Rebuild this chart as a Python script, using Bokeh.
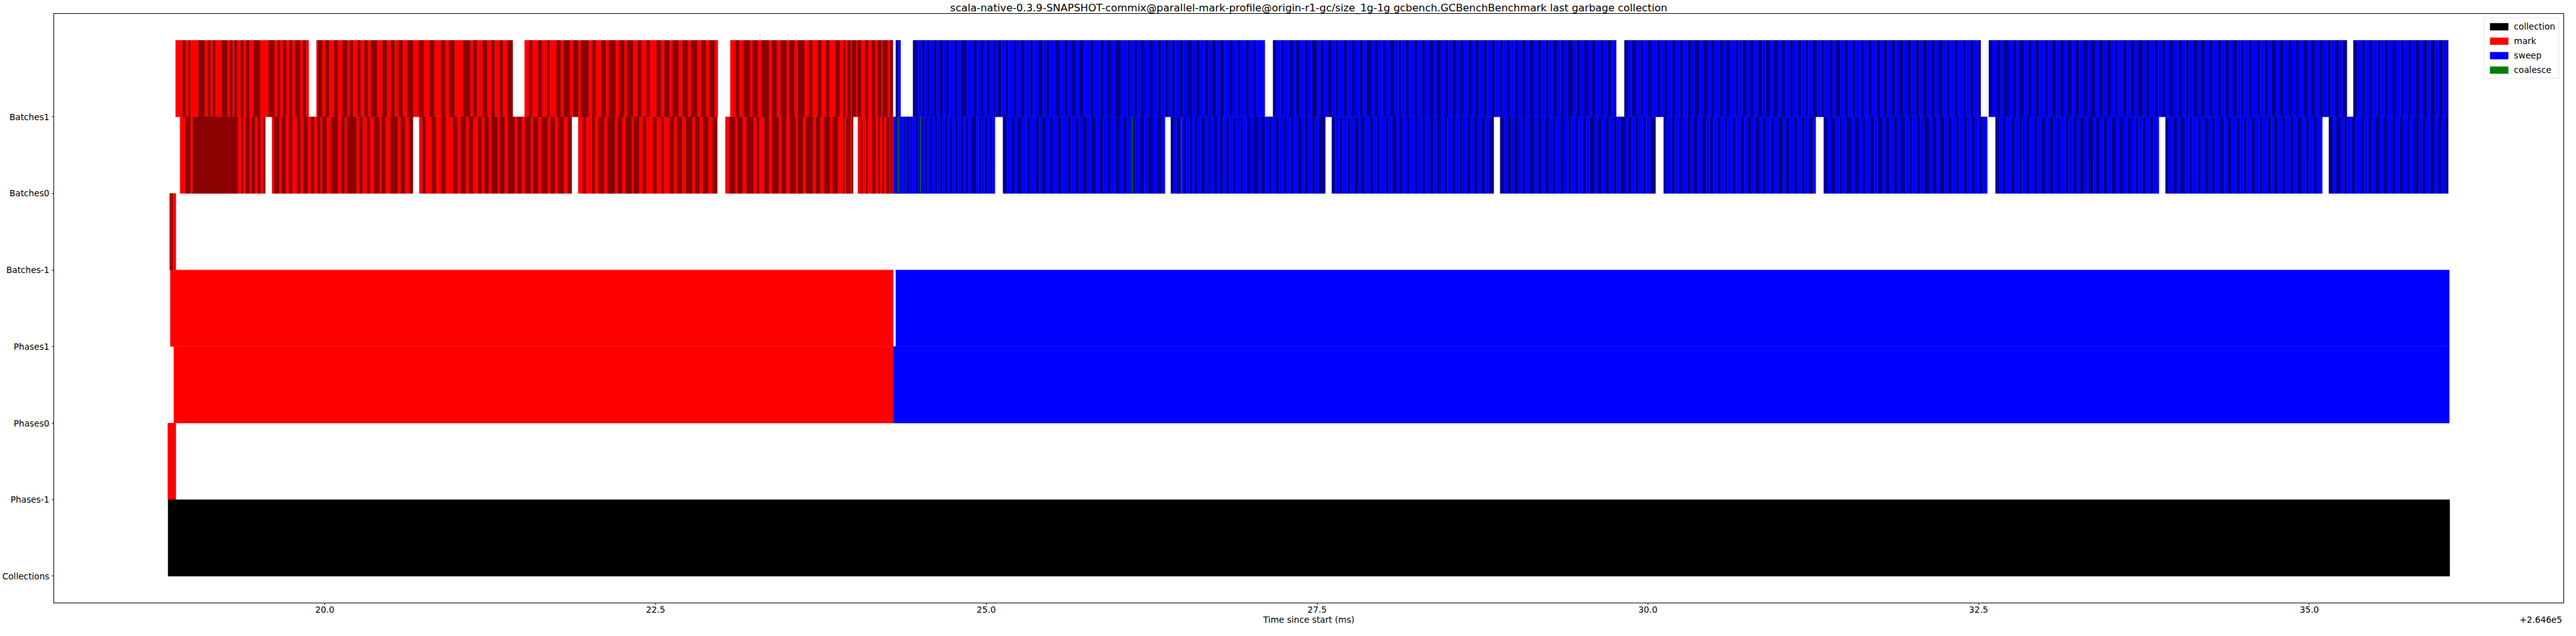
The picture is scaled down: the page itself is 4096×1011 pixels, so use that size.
from bokeh.plotting import figure
from bokeh.models import (ColumnDataSource, Range1d, FixedTicker, NumeralTickFormatter,
                          Legend, LegendItem, LinearAxis)
from bokeh.embed import file_html
from bokeh.resources import INLINE

TITLE = ("scala-native-0.3.9-SNAPSHOT-commix@parallel-mark-profile@origin-r1-gc/size_1g-1g "
         "gcbench.GCBenchBenchmark last garbage collection")
X_LABEL = "Time since start (ms)"
OFFSET_TEXT = "+2.646e5"          # times below are ms minus 264600
ROW_LABELS = ["Collections", "Phases-1", "Phases0", "Phases1", "Batches-1", "Batches0", "Batches1"]
X_TICKS = [20.0, 22.5, 25.0, 27.5, 30.0, 32.5, 35.0]

# ---- simple spans (start, end) in ms ----
collection_spans = [(18.815, 36.061)]
phases_m1_mark = [(18.813, 18.874)]
phases0_mark = [(18.859, 24.298)]
phases0_sweep = [(24.298, 36.058)]
phases1_mark = [(18.832, 24.296)]
phases1_sweep = [(24.316, 36.058)]

# ---- batch blocks: (start, end, batch widths in microseconds) ----
batches_m1_mark = [(18.827, 18.874, [5, 5, 5, 7, 25])]

batches0_mark = [
    (18.906, 19.550, [40, 37, 19, 340, 27, 12, 22, 28, 16, 26, 21, 18, 24, 14]),
    (19.601, 20.666, [16, 37, 21, 29, 25, 24, 37, 25, 22, 34, 25, 22, 24, 23, 17, 30, 34, 52, 26, 25,
                      19, 70, 24, 23, 33, 22, 34, 39, 16, 28, 39, 54, 24, 31, 31, 30]),
    (20.714, 21.866, [24, 23, 47, 31, 39, 36, 55, 31, 28, 38, 23, 31, 39, 25, 24, 30, 22, 45, 18, 35,
                      27, 50, 20, 33, 26, 41, 19, 37, 28, 44, 23, 31, 29, 40, 30, 30]),
    (21.916, 22.966, [35, 22, 48, 19, 30, 41, 26, 55, 21, 33, 28, 44, 17, 39, 30, 24, 52, 27, 36, 20,
                      45, 31, 23, 38, 29, 47, 22, 34, 26, 40, 33, 21]),
    (23.028, 23.993, [28, 45, 20, 36, 31, 52, 24, 19, 40, 33, 27, 48, 22, 35, 29, 41, 18, 37, 26, 50,
                      23, 32, 30, 44, 21, 39, 41, 8, 15, 11, 3, 16, 11, 10]),
    (24.029, 24.296, [21, 12, 28, 13, 36, 25, 19, 11, 20, 12, 21, 19, 10, 14, 6]),
]

batches0_sweep = [
    (24.298, 25.065, [5, 13, 9, 9, 11, 12, 7, 10, 10, 12, 18, 13, 13, 27, 20, 15, 19, 20, 14, 18, 17, 23,
                      18, 18, 19, 18, 19, 20, 19, 20, 22, 19, 20, 19, 17, 21, 41, 22, 17, 24, 21, 22, 16, 20]),
    (25.126, 26.350, [30, 30, 26, 19, 39, 36, 28, 37, 28, 19, 34, 26, 24, 37, 28, 49, 26, 28, 28, 28,
                      37, 28, 37, 30, 26, 32, 24, 36, 30, 28, 28, 39, 26, 32, 34, 28, 37, 34, 32, 24]),
    (26.395, 27.562, [24, 19, 32, 22, 19, 24, 22, 19, 22, 24, 32, 24, 19, 24, 22, 22, 24, 24, 22,
                      28, 22, 35, 19, 30, 26, 24, 38, 21, 27, 33, 20, 29, 25, 36, 22, 31, 24, 28, 34,
                      19, 27, 30, 23, 26, 28]),
    (27.612, 28.835, [26, 31, 22, 38, 24, 29, 33, 21, 27, 36, 23, 30, 25, 41, 22, 28, 34, 19, 27, 31,
                      24, 37, 26, 29, 22, 35, 28, 24, 32, 27, 21, 38, 25, 30, 23, 33, 28, 26, 31, 24,
                      29, 27, 35]),
    (28.884, 30.058, [33, 24, 28, 19, 36, 27, 22, 31, 40, 25, 29, 23, 34, 26, 21, 37, 28, 30, 24, 32,
                      20, 35, 27, 25, 39, 22, 29, 31, 26, 33, 24, 28, 36, 21, 30, 27, 25, 34, 23, 29, 31]),
    (30.120, 31.269, [22, 35, 28, 31, 24, 40, 26, 19, 33, 29, 37, 23, 27, 32, 25, 30, 21, 38, 26, 34,
                      28, 24, 31, 27, 36, 22, 29, 33, 25, 30, 39, 20, 28, 34, 26, 31, 24, 29, 35, 27]),
    (31.330, 32.566, [29, 24, 36, 31, 22, 27, 40, 25, 33, 28, 21, 35, 30, 26, 38, 23, 29, 32, 27, 24,
                      37, 30, 22, 34, 28, 26, 41, 23, 31, 27, 35, 25, 29, 33, 22, 38, 26, 30, 24, 32,
                      28, 36, 25]),
    (32.628, 33.863, [31, 26, 22, 39, 28, 33, 24, 30, 27, 35, 21, 29, 36, 25, 32, 28, 23, 40, 26, 31,
                      29, 24, 34, 27, 38, 22, 30, 25, 33, 28, 36, 24, 29, 31, 26, 35, 23, 30, 27, 32,
                      28, 25]),
    (33.913, 35.098, [25, 34, 29, 22, 37, 31, 26, 40, 23, 28, 33, 27, 21, 36, 30, 24, 32, 39, 26, 28,
                      23, 35, 29, 31, 24, 38, 27, 22, 33, 30, 26, 34, 28, 25, 37, 29, 24, 31, 27, 33]),
    (35.148, 36.050, [30, 24, 36, 27, 22, 33, 29, 41, 25, 31, 28, 23, 35, 26, 32, 38, 24, 29, 27, 34,
                      22, 30, 36, 25, 28, 31, 33, 27, 24, 30, 26]),
]

batches1_mark = [
    (18.872, 19.878, [53, 22, 22, 14, 62, 47, 27, 15, 19, 17, 53, 39, 21, 18, 16, 19, 28, 22, 20, 24,
                      34, 47, 64, 43, 24, 19, 23, 23, 24, 22, 22, 37, 22, 22, 22]),
    (19.937, 21.420, [12, 31, 25, 27, 39, 27, 37, 34, 22, 22, 36, 20, 31, 23, 25, 47, 41, 33, 31, 27,
                      31, 31, 36, 42, 44, 37, 44, 36, 50, 31, 30, 41, 66, 53, 22, 28, 44, 34,
                      31, 25, 40, 22, 36, 40]),
    (21.510, 22.970, [34, 22, 47, 28, 39, 19, 52, 31, 25, 44, 27, 36, 21, 58, 30, 26, 41, 33, 24, 49,
                      29, 38, 22, 45, 35, 27, 40, 23, 53, 31, 28, 37, 26, 43, 32, 38, 25, 47, 29, 36,
                      24, 41, 30]),
    (23.065, 24.294, [41, 26, 33, 48, 22, 37, 29, 55, 24, 35, 31, 44, 20, 39, 27, 50, 33, 25, 42, 28,
                      36, 23, 47, 31, 28, 15, 19, 22, 9, 32, 11, 26, 30, 22, 30, 22, 22, 28, 9, 37,
                      19, 19]),
]

batches1_sweep = [
    (24.316, 24.352, [18, 18]),
    (24.446, 27.105, [41, 24, 22, 19, 22, 26, 26, 19, 26, 24, 24, 41, 22, 24, 47, 47, 28, 28, 24, 22,
                      26, 26, 19, 13, 28, 28, 24, 41, 22, 30, 32, 37, 24, 41, 34, 26, 24, 43, 37, 32,
                      28, 28, 28, 28, 37, 47, 28, 47, 28, 28, 28, 28, 47, 47, 24, 28, 22, 24, 32, 34,
                      28, 37, 28, 28, 28, 24, 24, 32, 28, 28, 43, 28, 28, 37, 28, 24, 32, 28, 34, 37,
                      28, 35, 22, 40, 26, 31, 24, 43]),
    (27.167, 29.761, [27, 33, 24, 38, 29, 22, 31, 36, 25, 28, 41, 23, 30, 27, 34, 26, 21, 37, 29, 32,
                      24, 35, 28, 26, 39, 22, 30, 33, 25, 29, 36, 27, 23, 31, 28, 40, 24, 30, 26, 34,
                      29, 22, 37, 31, 25, 28, 33, 27, 24, 36, 30, 23, 29, 35, 26, 32, 28, 38, 21, 30,
                      27, 34, 25, 29, 31, 24, 37, 28, 26, 33, 22, 30, 35, 27, 29, 24, 39, 26, 31, 28,
                      33, 25, 30, 36, 23, 27, 32, 29, 26, 34]),
    (29.823, 32.516, [31, 25, 36, 28, 22, 34, 29, 40, 26, 30, 23, 37, 27, 32, 24, 35, 29, 21, 38, 28,
                      33, 25, 30, 36, 27, 24, 31, 39, 22, 29, 34, 26, 30, 28, 35, 23, 32, 27, 37, 25,
                      29, 33, 24, 36, 28, 31, 22, 30, 38, 26, 29, 34, 27, 23, 35, 30, 28, 32, 25, 39,
                      24, 31, 27, 36, 29, 22, 33, 28, 30, 26, 37, 25, 34, 29, 31, 23, 38, 27, 30, 26,
                      35, 28, 24, 33, 29, 36, 25, 31, 27, 32, 30, 24]),
    (32.578, 35.284, [26, 34, 29, 23, 38, 31, 27, 22, 36, 30, 25, 33, 28, 40, 24, 29, 35, 27, 31, 22,
                      37, 26, 30, 33, 28, 24, 39, 27, 31, 25, 34, 29, 23, 36, 30, 28, 32, 26, 38, 22,
                      29, 35, 27, 31, 24, 33, 28, 37, 25, 30, 26, 34, 29, 23, 36, 31, 27, 39, 24, 28,
                      32, 26, 35, 30, 22, 33, 29, 37, 25, 31, 28, 24, 36, 27, 30, 34, 26, 29, 23, 38,
                      31, 25, 33, 28, 30, 35, 24, 29, 32, 27, 36, 26]),
    (35.333, 36.050, [29, 35, 24, 31, 27, 38, 22, 30, 26, 33, 28, 36, 25, 30, 23, 34, 29, 27, 32, 24,
                      37, 26, 31, 28, 30]),
]

# coalesce events (start ms) in the Batches0 row, each ~4 microseconds long
coalesce_times = [24.334, 24.502, 26.103, 26.472]
coalesce_width_us = 4

MARK_COLORS = ("#ff0000", "#8b0000")
SWEEP_COLORS = ("#00008b", "#0000ff")
COLL_COLOR = "#000000"
COAL_COLOR = "#008000"

X_MIN, X_MAX = 17.951, 36.923
Y_MIN, Y_MAX = -0.35, 7.35
# positions (data x) of the second row of bottom texts
X_LABEL_POS = 27.4375
OFFSET_POS = 36.75

FONT = "DejaVu Sans"
TICK_FS = "13.7px"


def row_of(name):
    return ROW_LABELS.index(name)


quads = {c: dict(left=[], right=[], bottom=[], top=[]) for c in
         (MARK_COLORS + SWEEP_COLORS + (COLL_COLOR, COAL_COLOR))}


def add(color, x0, x1, row):
    q = quads[color]
    q["left"].append(x0)
    q["right"].append(x1)
    q["bottom"].append(row)
    q["top"].append(row + 1)


def add_spans(spans, color, row):
    for s, e in spans:
        add(color, s, e, row)


def add_blocks(blocks, colors, row):
    for s, e, widths in blocks:
        x = s
        k = 0
        last = None
        for w in widths:
            if x >= e - 1e-9:
                break
            x2 = min(x + w / 1000.0, e)
            add(colors[k % 2], x, x2, row)
            last = (colors[k % 2], len(quads[colors[k % 2]]["right"]) - 1)
            k += 1
            x = x2
        if last is not None and x < e:
            quads[last[0]]["right"][last[1]] = e


add_spans(collection_spans, COLL_COLOR, row_of("Collections"))
add_spans(phases_m1_mark, MARK_COLORS[0], row_of("Phases-1"))
add_spans(phases0_mark, MARK_COLORS[0], row_of("Phases0"))
add_spans(phases0_sweep, SWEEP_COLORS[1], row_of("Phases0"))
add_spans(phases1_mark, MARK_COLORS[0], row_of("Phases1"))
add_spans(phases1_sweep, SWEEP_COLORS[1], row_of("Phases1"))
add_blocks(batches_m1_mark, MARK_COLORS, row_of("Batches-1"))
add_blocks(batches0_mark, MARK_COLORS, row_of("Batches0"))
add_blocks(batches0_sweep, SWEEP_COLORS, row_of("Batches0"))
add_blocks(batches1_mark, MARK_COLORS, row_of("Batches1"))
add_blocks(batches1_sweep, SWEEP_COLORS, row_of("Batches1"))
for t in coalesce_times:
    add(COAL_COLOR, t, t + coalesce_width_us / 1000.0, row_of("Batches0"))

p = figure(width=4080, height=995, output_backend="svg", toolbar_location=None,
           x_range=Range1d(X_MIN, X_MAX), y_range=Range1d(Y_MIN, Y_MAX),
           min_border_left=75, min_border_right=4, min_border_top=0, min_border_bottom=0)

renderers = {}
for color, q in quads.items():
    renderers[color] = p.quad(source=ColumnDataSource(q), left="left", right="right",
                              bottom="bottom", top="top", fill_color=color,
                              line_color=color, line_width=0.5)

p.title.text = TITLE
p.title.align = "center"
p.title.text_font = FONT
p.title.text_font_size = "16.4px"
p.title.text_font_style = "normal"
p.title.text_color = "black"
p.title.standoff = 0

p.xgrid.visible = False
p.ygrid.visible = False
p.outline_line_color = "black"
p.outline_line_width = 1
p.outline_line_alpha = 1.0

xa = p.xaxis[0]
xa.ticker = FixedTicker(ticks=X_TICKS)
xa.formatter = NumeralTickFormatter(format="0.0")
xa.major_label_standoff = 2

ya = p.yaxis[0]
ya.ticker = FixedTicker(ticks=list(range(len(ROW_LABELS))))
ya.major_label_overrides = {i: lab for i, lab in enumerate(ROW_LABELS)}
ya.major_label_standoff = 4

for ax in (xa, ya):
    ax.axis_line_color = "black"
    ax.major_tick_line_color = "black"
    ax.minor_tick_line_color = None
    ax.major_tick_in = 0
    ax.major_tick_out = 3
    ax.major_label_text_font = FONT
    ax.major_label_text_font_size = TICK_FS
    ax.major_label_text_color = "black"

# second text row under the x axis: axis title (centred) and offset text (right)
xa2 = LinearAxis(ticker=FixedTicker(ticks=[X_LABEL_POS, OFFSET_POS]),
                 major_label_overrides={X_LABEL_POS: X_LABEL, OFFSET_POS: OFFSET_TEXT})
xa2.axis_line_color = None
xa2.major_tick_line_color = None
xa2.minor_tick_line_color = None
xa2.major_tick_in = 0
xa2.major_tick_out = 0
xa2.major_label_standoff = 0
xa2.major_label_text_font = FONT
xa2.major_label_text_font_size = TICK_FS
xa2.major_label_text_color = "black"
p.add_layout(xa2, "below")

legend = Legend(items=[
    LegendItem(label="collection", renderers=[renderers[COLL_COLOR]]),
    LegendItem(label="mark", renderers=[renderers[MARK_COLORS[0]]]),
    LegendItem(label="sweep", renderers=[renderers[SWEEP_COLORS[1]]]),
    LegendItem(label="coalesce", renderers=[renderers[COAL_COLOR]]),
], location="top_right")
legend.label_text_font = FONT
legend.label_text_font_size = TICK_FS
legend.label_text_color = "black"
legend.glyph_width = 36
legend.glyph_height = 14
legend.label_height = 14
legend.spacing = 7
legend.padding = 5
legend.margin = 7
legend.label_standoff = 6
legend.border_line_color = "#cccccc"
legend.border_line_width = 1
legend.background_fill_alpha = 0.8
p.add_layout(legend)

open("out.html", "w").write(file_html(p, INLINE))
